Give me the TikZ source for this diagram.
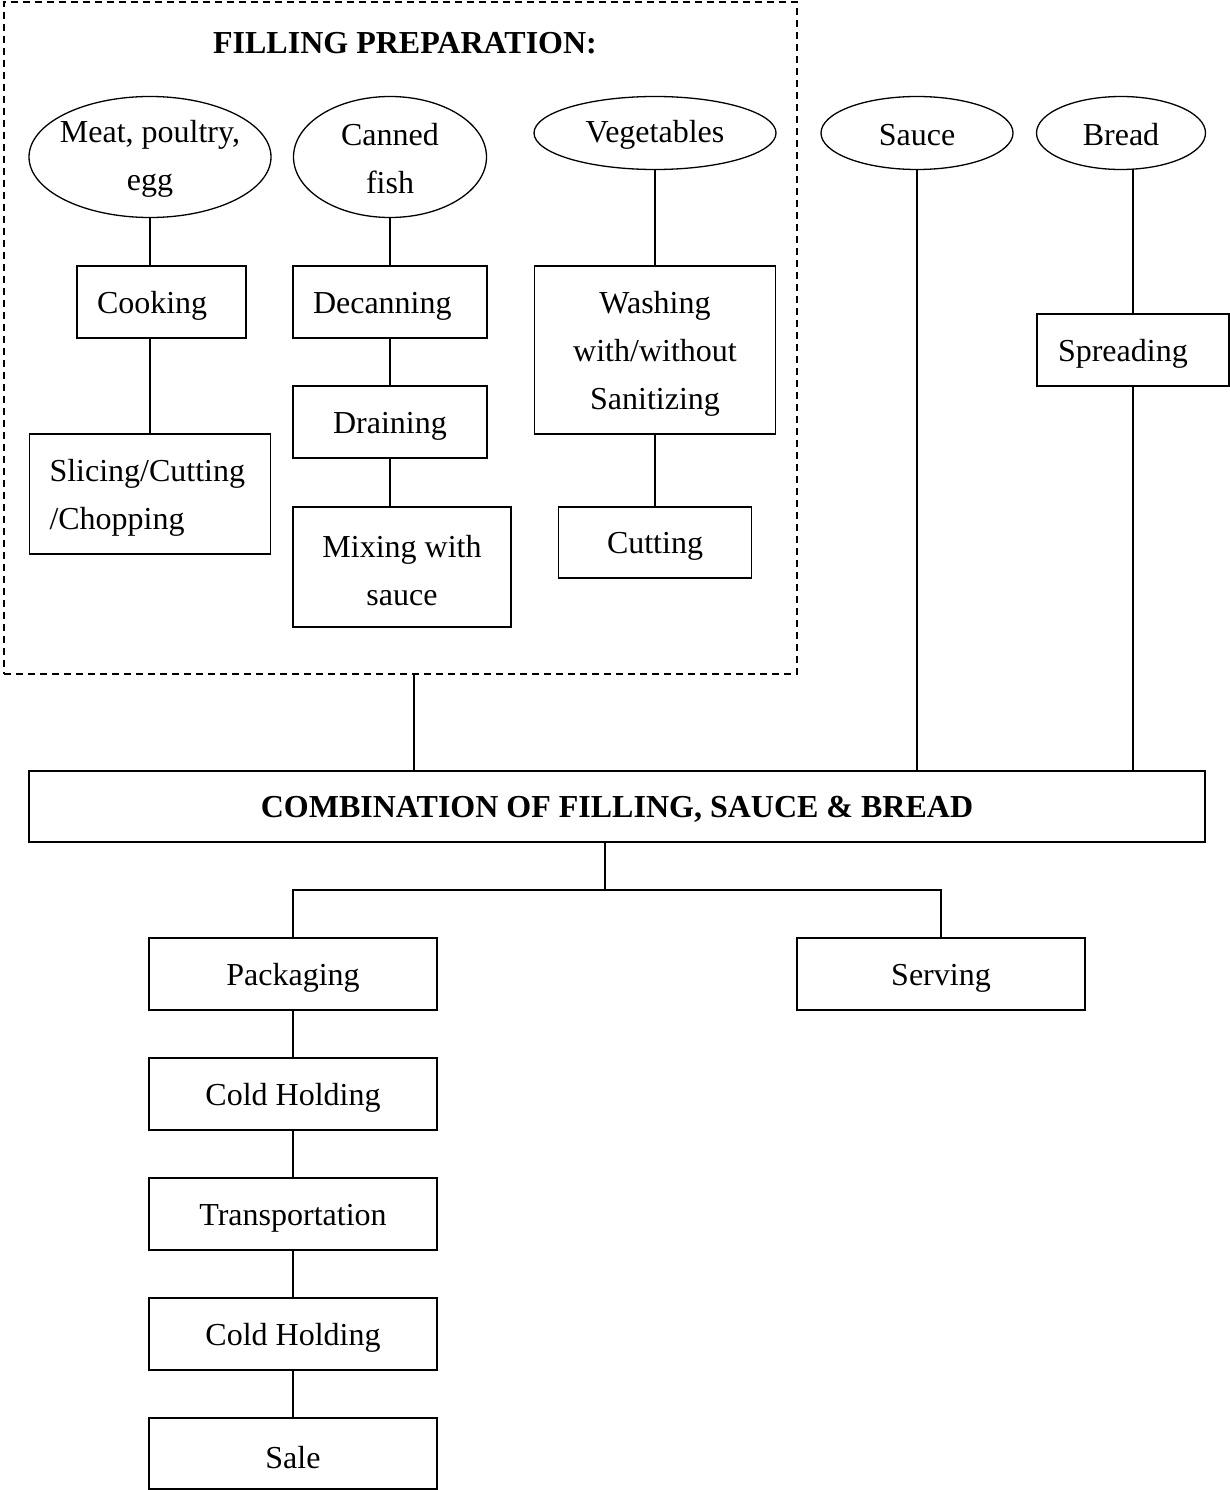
\documentclass[tikz,border=0pt]{standalone}
\usepackage{fontspec}
\setmainfont{Liberation Serif}
\usetikzlibrary{shapes.geometric}
\begin{document}
\begin{tikzpicture}[x=1pt,y=-1pt,
  every node/.style={font=\fontsize{32}{48}\selectfont, inner sep=0pt, outer sep=0pt},
  every label/.style={inner sep=0pt, outer sep=0pt},
  lw/.style={line width=1.3pt},
  tx/.style={align=center, yshift=-4pt},
  ltx/.style={align=left, text width=#1, yshift=-4pt},
  box/.style n args={3}{draw, lw, rectangle, minimum width=#1, minimum height=#2, label={[tx]center:{#3}}},
  lbox/.style n args={4}{draw, lw, rectangle, minimum width=#1, minimum height=#2, label={[ltx=#3]center:{#4}}},
  oval/.style n args={3}{draw, lw, ellipse, minimum width=#1, minimum height=#2, label={[align=center, yshift=-2pt]center:{#3}}},
  conn/.style={lw}
]
\useasboundingbox (0,0) rectangle (1230,1490);

% filling preparation frame
\node[draw, lw, dash pattern=on 7pt off 5pt, minimum width=793, minimum height=672] (fill) at (400.5,338) {};
\node[font=\fontsize{32}{48}\selectfont\bfseries] (title) at (405,43) {FILLING PREPARATION:};

% sources
\node[oval={242}{121}{Meat, poultry,\\egg}] (meat) at (150,157) {};
\node[oval={193}{121}{Canned\\fish}] (canned) at (390,157) {};
\node[oval={242}{73}{Vegetables}] (veg) at (655,133) {};
\node[oval={192}{73}{Sauce}] (sauce) at (917,133) {};
\node[oval={169}{73}{Bread}] (bread) at (1121,133) {};

% meat branch
\node[lbox={169}{72}{129}{Cooking}] (cook) at (161.5,302) {};
\node[lbox={241}{120}{201}{Slicing/Cutting\\/Chopping}] (slice) at (150,494) {};
% canned fish branch
\node[lbox={194}{72}{154}{Decanning}] (dec) at (390,302) {};
\node[box={194}{72}{Draining}] (drain) at (390,422) {};
\node[box={218}{120}{Mixing with\\sauce}] (mix) at (402,567) {};
% vegetables branch
\node[box={241}{168}{Washing\\with/without\\Sanitizing}] (wash) at (655,350) {};
\node[box={193}{71}{Cutting}] (cut) at (655,542.5) {};
% bread branch
\node[lbox={192}{72}{150}{Spreading}] (spread) at (1133,350) {};

% combination
\node[draw, lw, minimum width=1176, minimum height=71,
      label={[yshift=-3pt, font=\fontsize{32}{48}\selectfont\bfseries]center:{COMBINATION OF FILLING, SAUCE \& BREAD}}] (comb) at (617,806.5) {};

% outputs
\node[box={288}{72}{Packaging}] (pack) at (293,974) {};
\node[box={288}{72}{Serving}] (serv) at (941,974) {};
\node[box={288}{72}{Cold Holding}] (ch1) at (293,1094) {};
\node[box={288}{72}{Transportation}] (trans) at (293,1214) {};
\node[box={288}{72}{Cold Holding}] (ch2) at (293,1334) {};
\node[box={288}{71}{Sale}] (sale) at (293,1453.5) {};

% connectors
\draw[conn] (meat.south) -- (meat.south |- cook.north);
\draw[conn] (meat.south |- cook.south) -- (slice.north);
\draw[conn] (canned.south) -- (dec.north);
\draw[conn] (dec.south) -- (drain.north);
\draw[conn] (drain.south) -- (drain.south |- mix.north);
\draw[conn] (veg.south) -- (wash.north);
\draw[conn] (wash.south) -- (cut.north);
\draw[conn] (spread.north |- bread.south) -- (spread.north);
\draw[conn] (spread.south) -- (spread.south |- comb.north);
\draw[conn] (sauce.south) -- (sauce.south |- comb.north);
\coordinate (fb) at ([xshift=13.5pt]fill.south);
\draw[conn] (fb) -- (fb |- comb.north);
\coordinate (cb) at ([xshift=-12pt]comb.south);
\draw[conn] (cb) -- ++(0,48) coordinate (j);
\draw[conn] (pack.north) |- (j) -| (serv.north);
\draw[conn] (pack.south) -- (ch1.north);
\draw[conn] (ch1.south) -- (trans.north);
\draw[conn] (trans.south) -- (ch2.north);
\draw[conn] (ch2.south) -- (sale.north);
\end{tikzpicture}
\end{document}
